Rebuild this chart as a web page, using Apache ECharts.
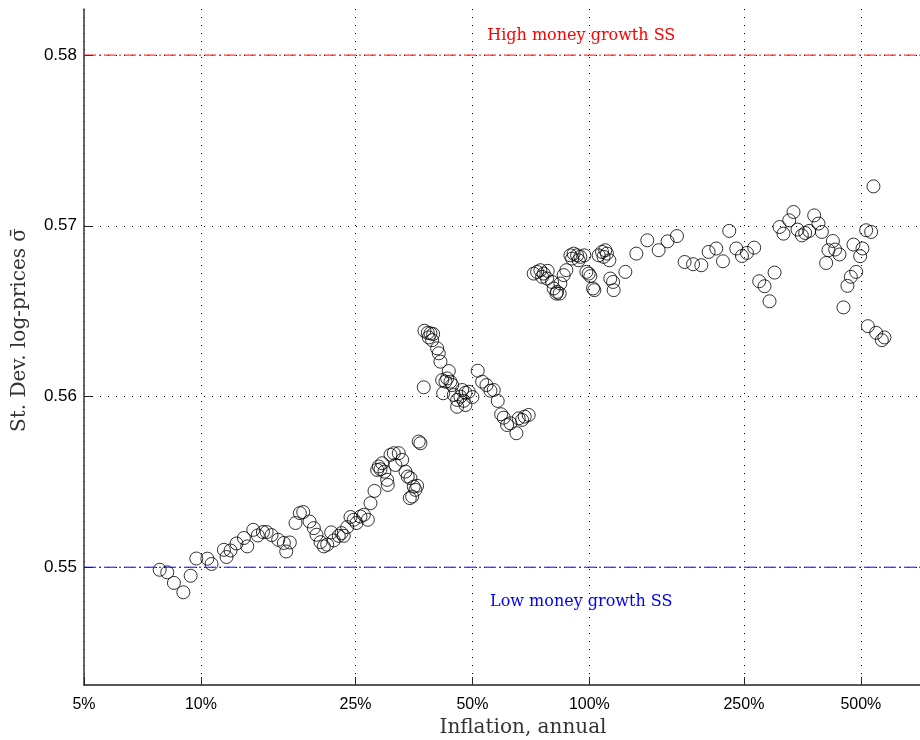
<!DOCTYPE html>
<html>
<head>
<meta charset="utf-8">
<script src="https://cdn.jsdelivr.net/npm/echarts@6/dist/echarts.min.js"></script>
<style>
  html, body { margin: 0; padding: 0; background: #fff; }
  #chart { width: 920px; height: 740px; }
</style>
</head>
<body>
<div id="chart"></div>
<script>
// 年通胀率 (%)
const inflation = [
  7.83, 8.19, 8.52, 9.01, 9.41, 9.73, 10.39, 10.65, 11.46, 11.64,
  11.92, 12.35, 12.90, 13.16, 13.64, 14.01, 14.44, 14.76, 15.20, 15.81,
  16.35, 16.58, 16.94, 17.52, 17.97, 18.34, 19.04, 19.53, 19.84, 20.32,
  20.72, 21.14, 21.65, 21.98, 22.64, 23.01, 23.32, 23.80, 24.27, 24.75,
  25.15, 25.75, 26.26, 26.89, 27.32, 27.98, 28.43, 28.70, 28.99, 29.28,
  29.68, 30.16, 30.27, 30.76, 31.37, 31.68, 32.31, 32.97, 33.62, 34.08,
  34.63, 35.31, 35.67, 36.03, 34.49, 34.98, 36.37, 36.74, 37.62, 38.37,
  38.99, 39.62, 38.60, 39.38, 40.57, 40.96, 41.37, 43.46, 37.47, 41.79,
  42.61, 43.90, 43.05, 44.34, 42.04, 44.76, 45.67, 45.67, 47.05, 47.98,
  48.92, 46.57, 47.49, 47.98, 50.00, 51.60, 52.96, 54.33, 55.63, 56.73,
  58.09, 59.27, 60.19, 61.41, 62.63, 64.89, 65.78, 67.12, 68.16, 69.80,
  71.90, 73.36, 74.81, 76.29, 78.11, 75.57, 77.84, 80.17, 80.94, 82.59,
  83.87, 82.25, 84.22, 85.88, 87.27, 89.36, 91.13, 92.98, 94.82, 90.27,
  93.87, 97.08, 98.24, 99.59, 100.6, 102.2, 103.0, 105.7, 107.8, 109.9,
  111.0, 108.8, 112.6, 113.2, 115.1, 115.5, 123.8, 132.1, 141.0, 150.8,
  159.0, 168.1, 175.9, 184.9, 194.2, 202.8, 212.2, 220.8, 229.2, 238.9,
  247.1, 254.5, 265.7, 273.7, 282.5, 299.8, 291.0, 308.8, 316.1, 327.0,
  335.4, 343.5, 352.5, 359.5, 368.1, 379.2, 389.0, 396.9, 423.6, 412.7,
  429.4, 440.5, 407.1, 478.6, 504.8, 498.0, 486.4, 471.2, 461.8, 451.0,
  516.0, 531.5, 538.8, 521.2, 547.5, 566.3, 575.1
];

// 对数价格标准差
const sigma = [
  0.54985, 0.54970, 0.54908, 0.54853, 0.54950, 0.55051, 0.55050, 0.55019, 0.55102, 0.55060,
  0.55098, 0.55139, 0.55171, 0.55122, 0.55219, 0.55186, 0.55206, 0.55206, 0.55188, 0.55161,
  0.55142, 0.55092, 0.55145, 0.55259, 0.55317, 0.55323, 0.55268, 0.55229, 0.55190, 0.55147,
  0.55122, 0.55132, 0.55204, 0.55157, 0.55184, 0.55200, 0.55184, 0.55235, 0.55294, 0.55278,
  0.55259, 0.55297, 0.55307, 0.55278, 0.55375, 0.55447, 0.55570, 0.55590, 0.55574, 0.55609,
  0.55560, 0.55512, 0.55482, 0.55658, 0.55668, 0.55599, 0.55668, 0.55629, 0.55560, 0.55531,
  0.55522, 0.55472, 0.55453, 0.55477, 0.55405, 0.55414, 0.55736, 0.55726, 0.56385, 0.56373,
  0.56370, 0.56366, 0.56346, 0.56330, 0.56282, 0.56253, 0.56204, 0.56149, 0.56054, 0.56096,
  0.56087, 0.56087, 0.56106, 0.56067, 0.56019, 0.56009, 0.55980, 0.55940, 0.56038, 0.56022,
  0.56028, 0.55999, 0.55975, 0.55950, 0.55997, 0.56151, 0.56087, 0.56067, 0.56034, 0.56038,
  0.55974, 0.55896, 0.55876, 0.55833, 0.55843, 0.55785, 0.55872, 0.55863, 0.55882, 0.55892,
  0.56720, 0.56730, 0.56740, 0.56720, 0.56736, 0.56701, 0.56691, 0.56671, 0.56633, 0.56613,
  0.56603, 0.56603, 0.56662, 0.56711, 0.56740, 0.56827, 0.56837, 0.56827, 0.56818, 0.56808,
  0.56798, 0.56827, 0.56730, 0.56720, 0.56705, 0.56633, 0.56623, 0.56827, 0.56847, 0.56857,
  0.56837, 0.56818, 0.56798, 0.56691, 0.56671, 0.56623, 0.56730, 0.56837, 0.56915, 0.56857,
  0.56909, 0.56940, 0.56788, 0.56775, 0.56769, 0.56847, 0.56867, 0.56792, 0.56970, 0.56867,
  0.56823, 0.56841, 0.56872, 0.56675, 0.56646, 0.56726, 0.56558, 0.56993, 0.56954, 0.57032,
  0.57081, 0.56978, 0.56944, 0.56958, 0.56970, 0.57061, 0.57013, 0.56964, 0.56911, 0.56857,
  0.56861, 0.56832, 0.56782, 0.56890, 0.56867, 0.56822, 0.56730, 0.56701, 0.56648, 0.56522,
  0.56974, 0.56964, 0.57231, 0.56412, 0.56373, 0.56330, 0.56346
];

// 刻度与坐标范围
const xTicks = [5, 10, 25, 50, 100, 250, 500];
const yTicks = [0.55, 0.56, 0.57, 0.58];
const xMin = 5, xMax = 710;

// 稳态水平
const highSS = 0.58;
const lowSS = 0.55;

// 散点数据
const points = inflation.map((v, i) => [v, sigma[i]]);

const chartDom = document.getElementById('chart');
const myChart = echarts.init(chartDom);
var option;

// 点线网格
const gridDots = { color: '#000', width: 1, type: [1, 7] };
const serif = 'DejaVu Serif';
const sans = 'Liberation Sans';

// 稳态参考线: 横跨整个x范围的线系列, 中间一个点放标签
function ssLine(name, value, color, text, pos, dist) {
  return {
    name: name,
    type: 'line',
    z: 5,
    data: [[xMin, value], [xMax, value]],
    symbol: 'none',
    color: color,
    lineStyle: { color: color, width: 1, type: [12, 3, 2, 3] },
    markPoint: {
      silent: true,
      symbol: 'rect',
      symbolSize: 0,
      label: {
        show: true,
        formatter: text,
        position: pos,
        distance: dist,
        color: color, fontFamily: serif, fontSize: 16
      },
      data: [{ coord: [Math.sqrt(xMin * xMax) * 1.6, value] }]
    }
  };
}

option = {
  animation: false,
  backgroundColor: '#fff',
  grid: { left: 84, right: 0, top: 9, bottom: 55, containLabel: false, outerBoundsMode: 'none' },
  xAxis: {
    type: 'log',
    logBase: 10,
    min: xMin,
    max: xMax,
    name: 'Inflation, annual',
    nameLocation: 'middle',
    nameGap: 31,
    nameTextStyle: {
      fontFamily: serif, fontSize: 20, color: '#333',
      padding: [0, 0, 0, 42]
    },
    axisLine: { lineStyle: { color: '#222', width: 1.5 } },
    axisTick: { inside: true, length: 8, customValues: xTicks, lineStyle: { color: '#222' } },
    axisLabel: {
      customValues: xTicks,
      formatter: v => v + '%',
      fontFamily: sans, fontSize: 16, color: '#000', margin: 12
    },
    splitLine: { show: true, lineStyle: gridDots },
    minorTick: { show: false }
  },
  yAxis: {
    type: 'value',
    min: 0.5431,
    max: 0.5827,
    name: 'St. Dev. log-prices σ̄',
    nameLocation: 'middle',
    nameGap: 54,
    nameTextStyle: {
      fontFamily: serif, fontSize: 20, color: '#333',
      padding: [0, 0, 0, 34]
    },
    axisLine: { lineStyle: { color: '#333', width: 1.5 } },
    axisTick: { inside: true, length: 8, customValues: yTicks, lineStyle: { color: '#222' } },
    axisLabel: {
      customValues: yTicks,
      formatter: v => v.toFixed(2),
      fontFamily: sans, fontSize: 17, color: '#000', margin: 7
    },
    splitLine: { show: true, lineStyle: gridDots }
  },
  series: [
    ssLine('high', highSS, '#ff0000', 'High money growth SS', 'top', 11),
    ssLine('low', lowSS, '#0000ff', 'Low money growth SS', 'bottom', 27),
    {
      name: 'sigma',
      type: 'scatter',
      data: points,
      symbol: 'circle',
      symbolSize: 13,
      z: 3,
      itemStyle: { color: 'rgba(0,0,0,0)', borderColor: '#000', borderWidth: 1 }
    }
  ]
};

option && myChart.setOption(option);
</script>
</body>
</html>
